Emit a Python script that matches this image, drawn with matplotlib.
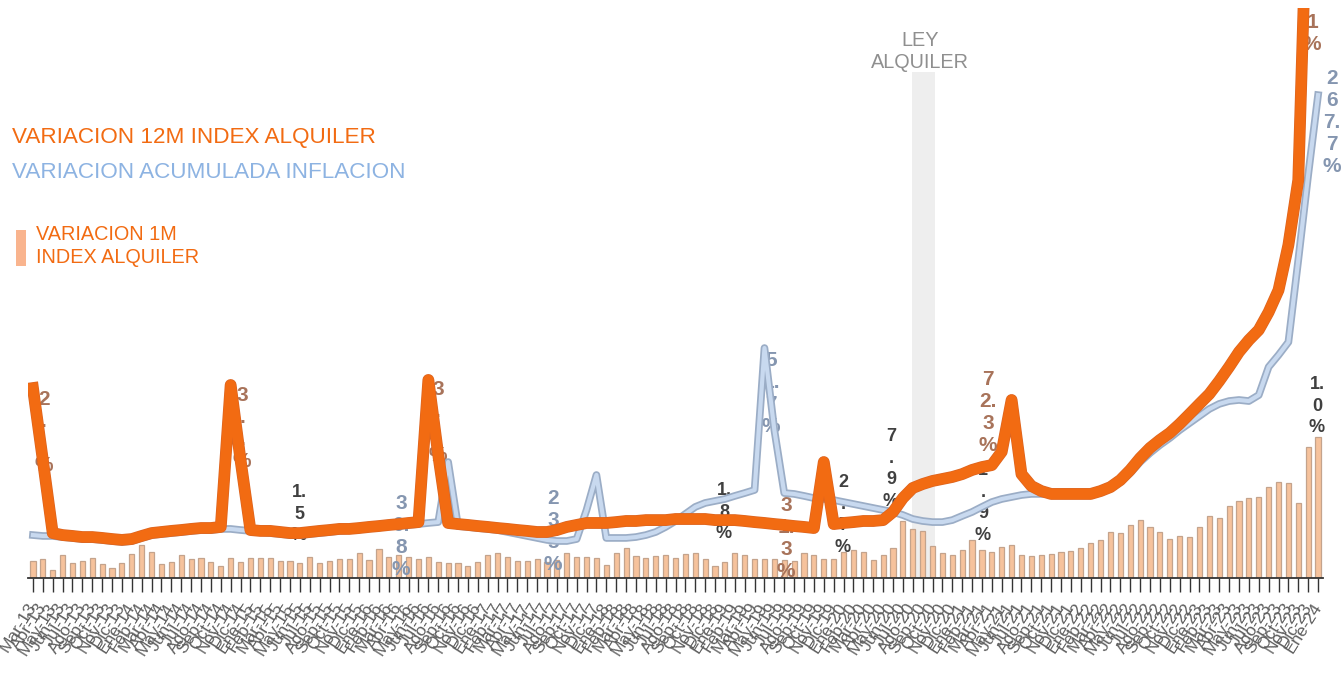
import numpy as np
import matplotlib
matplotlib.use('Agg')
import matplotlib.pyplot as plt
import matplotlib.patheffects as pe
from matplotlib.patches import Rectangle

# variacion mensual del indice de alquiler (%), mar-13 .. ene-24
var_1m = [
    1.24, 1.35, 0.57, 1.60, 1.06, 1.24, 1.42, 0.96, 0.71, 1.06,
    1.70, 2.34, 1.81, 0.96, 1.13, 1.60, 1.38, 1.45, 1.13, 0.82,
    1.42, 1.13, 1.45, 1.45, 1.42, 1.24, 1.24, 1.06, 1.49, 1.03,
    1.24, 1.38, 1.38, 1.74, 1.31, 2.09, 1.49, 1.63, 1.49, 1.38,
    1.49, 1.10, 1.06, 1.06, 0.85, 1.13, 1.63, 1.77, 1.49, 1.21,
    1.21, 1.35, 1.13, 1.28, 1.77, 1.49, 1.49, 1.42, 0.92, 1.77,
    2.13, 1.56, 1.42, 1.56, 1.60, 1.42, 1.70, 1.77, 1.35, 0.85,
    1.13, 1.77, 1.63, 1.35, 1.35, 1.35, 1.28, 1.21, 1.77, 1.63,
    1.35, 1.35, 1.84, 1.99, 1.84, 1.28, 1.63, 2.13, 4.04, 3.48,
    3.33, 2.27, 1.77, 1.63, 1.99, 2.70, 1.99, 1.84, 2.20, 2.34,
    1.63, 1.56, 1.63, 1.70, 1.84, 1.91, 2.13, 2.48, 2.70, 3.26,
    3.19, 3.76, 4.11, 3.62, 3.26, 2.77, 2.98, 2.91, 3.62, 4.40,
    4.26, 5.11, 5.46, 5.67, 5.74, 6.45, 6.81, 6.74, 5.32, 9.29,
    10.0]

# variacion 12 meses del indice de alquiler (%)
var_12m = [
    105.3, 65.4, 24.9, 23.8, 23.3, 22.7, 22.7, 22.2, 21.6, 21.1,
    21.6, 23.3, 24.9, 25.5, 26.1, 26.6, 27.2, 27.7, 27.7, 28.3,
    107.0, 65.4, 26.6, 26.1, 26.1, 25.5, 24.9, 24.9, 25.5, 26.1,
    26.6, 27.2, 27.2, 27.7, 28.3, 28.8, 29.4, 29.9, 30.5, 31.0,
    109.8, 68.2, 30.5, 29.9, 29.4, 28.8, 28.3, 27.7, 27.2, 26.6,
    26.1, 25.5, 25.5, 26.6, 28.3, 29.4, 30.5, 30.5, 30.5, 31.0,
    31.6, 31.6, 32.1, 32.1, 32.1, 32.7, 32.7, 32.7, 32.7, 32.1,
    32.1, 32.1, 31.6, 31.0, 30.5, 29.9, 29.4, 28.8, 28.3, 27.7,
    64.3, 29.9, 30.5, 31.0, 31.6, 31.6, 32.1, 36.6, 44.3, 49.9,
    52.1, 53.8, 54.9, 56.0, 57.6, 59.9, 61.5, 62.6, 70.0, 98.7,
    57.6, 51.0, 48.2, 46.6, 46.6, 46.6, 46.6, 46.6, 48.2, 50.4,
    54.3, 59.9, 66.5, 72.1, 76.5, 80.4, 85.4, 90.9, 96.5, 102.0,
    109.2, 117.0, 125.3, 131.9, 137.5, 147.4, 159.6, 184.6, 220.6, 400.1,
    np.nan]

# variacion acumulada de la inflacion (%)
inflacion = [
    23.8, 23.3, 23.3, 22.7, 22.2, 21.6, 21.6, 21.1, 20.5, 20.0,
    20.5, 22.2, 23.8, 24.4, 24.9, 25.5, 26.1, 26.6, 26.6, 27.2,
    27.2, 26.6, 26.1, 25.5, 24.9, 24.4, 23.8, 23.8, 24.4, 24.9,
    25.5, 26.1, 26.6, 27.2, 27.7, 28.3, 28.8, 28.8, 29.4, 29.9,
    30.5, 31.0, 64.3, 28.8, 28.3, 27.7, 27.2, 26.6, 25.5, 24.4,
    23.3, 22.2, 21.1, 20.5, 20.5, 21.6, 37.7, 57.1, 22.2, 22.2,
    22.2, 22.7, 23.8, 25.5, 28.3, 31.6, 35.5, 39.4, 41.6, 42.7,
    43.8, 45.5, 47.1, 48.8, 127.5, 82.0, 47.1, 46.6, 45.5, 44.3,
    43.8, 43.2, 42.1, 41.0, 39.9, 38.8, 37.7, 36.6, 34.9, 32.7,
    31.6, 31.0, 31.0, 32.1, 34.4, 36.6, 39.4, 42.1, 43.8, 44.9,
    46.0, 46.6, 46.6, 46.6, 46.6, 46.6, 46.6, 46.6, 47.7, 49.9,
    53.2, 58.2, 64.3, 69.3, 73.7, 77.6, 82.0, 85.9, 89.8, 93.7,
    96.5, 98.1, 98.7, 98.1, 101.4, 117.0, 123.6, 130.8, 176.3, 223.4,
    267.7]

meses = ['Ene', 'Feb', 'Mar', 'Abr', 'May', 'Jun', 'Jul', 'Ago', 'Sep', 'Oct', 'Nov', 'Dic']
fechas = [f"{meses[(2 + i) % 12]}-{13 + (2 + i) // 12}" for i in range(len(var_1m))]

NARANJA = '#f26b12'
CELESTE = '#8db3e2'
MARRON = '#a8735a'
AZULGRIS = '#8596b0'
OSCURO = '#404040'

plt.rcParams['font.family'] = ['Liberation Sans', 'DejaVu Sans']

W, H = 1343, 679


def px(x, y):
    return x / W, 1 - y / H


fig = plt.figure(figsize=(W / 100, H / 100), dpi=100)
ax = fig.add_axes([28 / W, 101 / H, 1295 / W, 570 / H])
x = np.arange(len(var_1m))

# franja ley de alquileres
ax.axvspan(88.9, 91.25, ymin=0, ymax=506 / 570, color='#eeeeee', zorder=0, lw=0)

ax.bar(x, var_1m, width=0.52, color='#f6c29c', edgecolor='#c4a38c', linewidth=0.9, zorder=2)
ax.set_xlim(-0.5, 130.5)
ax.set_ylim(0, 40.4)
ax.set_yticks([])
for s in ['left', 'right', 'top']:
    ax.spines[s].set_visible(False)
ax.spines['bottom'].set_color('#333333')
ax.spines['bottom'].set_linewidth(1.3)
ax.set_xticks(x)
ax.set_xticklabels(fechas, rotation=58, ha='right', va='center', rotation_mode='anchor',
                   fontsize=12.5, color='#606060')
ax.tick_params(axis='x', length=10, width=1, color='#333333', pad=9)

ax2 = ax.twinx()
ax2.set_ylim(0, 316)
ax2.set_axis_off()
ax2.plot(x, inflacion, color='#c8d9ef', lw=3, zorder=2,
         path_effects=[pe.Stroke(linewidth=5.5, foreground='#9badc6'), pe.Normal()])
ax2.plot(x, var_12m, color=NARANJA, lw=7.5, zorder=3,
         path_effects=[pe.Stroke(linewidth=8.5, foreground='#dc6420'), pe.Normal()])

# etiquetas de datos (texto partido caracter a caracter como en el original)
etiquetas = [
    (44, 390, "2\n.\n.\n%", MARRON, 15),
    (242, 386, "3\n.\n.\n%", MARRON, 15),
    (438, 380, "3\n.\n.\n%", MARRON, 15),
    (299, 484, "1.\n5\n%", OSCURO, 13),
    (401, 494, "3\n0.\n8\n%", AZULGRIS, 15),
    (553, 489, "2\n3\n5\n%", AZULGRIS, 15),
    (724, 482, "1.\n8\n%", OSCURO, 13),
    (771, 351, "5\n1.\n7\n%", AZULGRIS, 15),
    (786, 496, "3\n1.\n3\n%", MARRON, 15),
    (843, 474, "2\n.\n7\n%", OSCURO, 13),
    (891, 428, "7\n.\n9\n%", OSCURO, 13),
    (988, 370, "7\n2.\n3\n%", MARRON, 15),
    (983, 462, "1\n.\n9\n%", OSCURO, 13),
    (1317, 376, "1.\n0\n%", OSCURO, 13),
    (1312, 13, "1\n%", MARRON, 15),
    (1332, 69, "2\n6\n7.\n7\n%", AZULGRIS, 15),
]
for ex, ey, txt, col, fs in etiquetas:
    ax2.text(*px(ex, ey), txt, transform=fig.transFigure, ha='center', va='top',
             color=col, fontsize=fs, fontweight='bold', linespacing=1.2 if fs == 15 else 1.35,
             zorder=1)

# leyenda
fig.text(*px(12, 138), 'VARIACION 12M INDEX ALQUILER', color=NARANJA, fontsize=16.2, va='center')
fig.text(*px(12, 172), 'VARIACION ACUMULADA INFLACION', color=CELESTE, fontsize=16.2, va='center')
fig.add_artist(Rectangle(px(16, 266), 10 / W, 36 / H, transform=fig.transFigure,
                         color='#f9b48e', lw=0))
fig.text(*px(36, 246), 'VARIACION 1M\nINDEX ALQUILER', color=NARANJA, fontsize=14.3,
         va='center', linespacing=1.25)

fig.text(*px(920, 52), 'LEY\nALQUILER', color='#8f8f8f', fontsize=14.3, ha='center',
         va='center', linespacing=1.2)

fig.savefig('out.png', dpi=100)
